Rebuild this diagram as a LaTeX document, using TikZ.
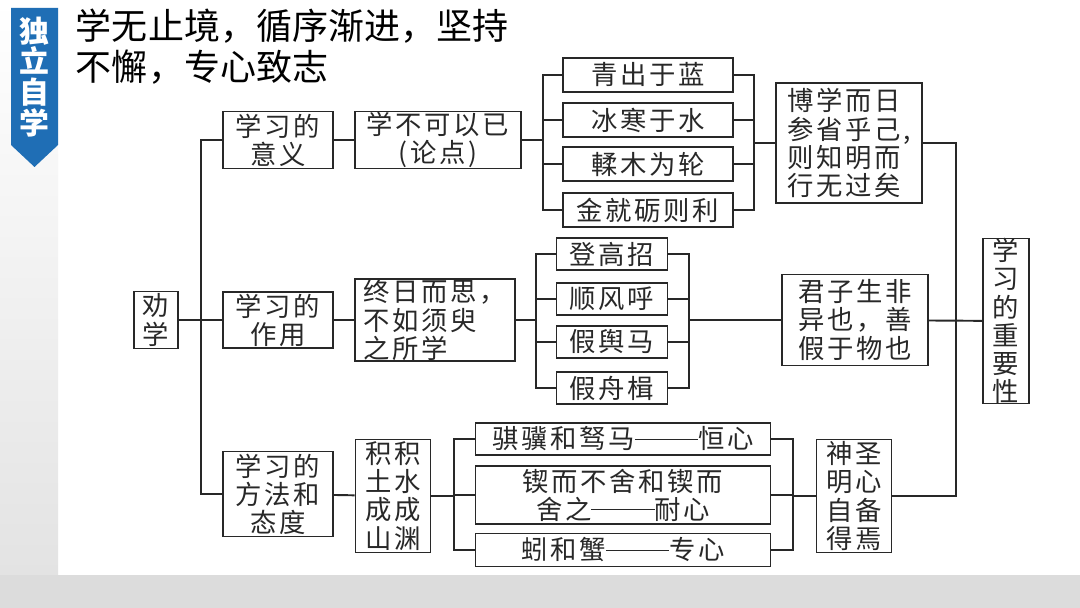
\documentclass[tikz,border=0pt]{standalone}
\usepackage{fontspec}
\newfontfamily\titlefont{Noto Sans CJK SC}
\newfontfamily\boxfont[LetterSpace=10]{Noto Sans CJK SC}
\newcommand\longdash{\rule[0.34em]{2.4em}{0.6pt}}
\definecolor{badgeblue}{RGB}{31,110,181}
\definecolor{inkgray}{RGB}{40,40,40}
\definecolor{stripgray}{RGB}{220,220,220}
\begin{document}
\begin{tikzpicture}[
            x=0.02cm, y=-0.02cm, line width=1.1pt, color=inkgray,
            box/.style={draw, inner sep=0pt, align=center,
                font=\boxfont\fontsize{15pt}{16pt}\selectfont},
            sz/.style 2 args={minimum width=#1*0.02cm, minimum height=#2*0.02cm}
        ]
            % background
            \fill[white] (0,0) rectangle (1080,608);
            \shade[top color=white, bottom color=stripgray!80] (0,0) rectangle (58,575);
            \fill[stripgray] (0,575) rectangle (1080,608);
            \useasboundingbox (0,0) rectangle (1080,608);

            % badge and title
            \fill[badgeblue] (11,8) -- (58,8) -- (58,145) -- (34.5,167) -- (11,145) -- cycle;
            \node[text=white, inner sep=0, align=center,
                font=\titlefont\bfseries\fontsize{17pt}{17.6pt}\selectfont] (badge) at (34.5,77) {独\\立\\自\\学};
            \node[anchor=west, inner sep=0, align=left, text=black,
                font=\titlefont\fontsize{20.5pt}{23.3pt}\selectfont] (title) at (75,47)
                {学无止境，循序渐进，坚持\\不懈，专心致志};

            % first column
            \node[box, sz={44}{57}] (quan) at (156,320) {劝\\学};
            \node[box, sz={110}{57}] (yi) at (278,140) {学习的\\意义};
            \node[box, sz={110}{56}] (zuo) at (278,320) {学习的\\作用};
            \node[box, sz={110}{85}] (fa) at (278,494) {学习的\\方法和\\态度};

            % second column
            \node[box, sz={166}{57}] (lun) at (438,140) {学不可以已\\(论点)};
            \node[box, sz={160}{82}, align=left] (si) at (435,320) {终日而思，\\不如须臾\\之所学};
            \node[box, sz={75}{113}] (ji) at (393,496) {积积\\土水\\成成\\山渊};

            % examples
            \node[box, sz={170}{34}] (q1) at (648,75) {青出于蓝};
            \node[box, sz={170}{34}] (q2) at (648,120) {冰寒于水};
            \node[box, sz={170}{34}] (q3) at (648,164) {輮木为轮};
            \node[box, sz={170}{34}] (q4) at (648,210) {金就砺则利};

            \node[box, sz={111}{32}] (z1) at (612,254) {登高招};
            \node[box, sz={111}{32}] (z2) at (612,299) {顺风呼};
            \node[box, sz={111}{32}] (z3) at (612,342) {假舆马};
            \node[box, sz={111}{32}] (z4) at (612,388) {假舟楫};

            \node[box, sz={295}{32}] (f1) at (623,439) {骐骥和驽马\longdash 恒心};
            \node[box, sz={295}{58}] (f2) at (623,495) {锲而不舍和锲而\\舍之\longdash 耐心};
            \node[box, sz={295}{33}] (f3) at (623,550) {蚓和蟹\longdash 专心};

            % conclusions
            \node[box, sz={146}{120}, align=left] (bo) at (849,143) {博学而日\\参省乎己,\\则知明而\\行无过矣};
            \node[box, sz={146}{91}] (jun) at (855,320) {君子生非\\异也，善\\假于物也};
            \node[box, sz={75}{113}] (shen) at (854,496) {神圣\\明心\\自备\\得焉};
            \node[box, sz={46}{162}] (imp) at (1006,321) {学\\习\\的\\重\\要\\性};

            % bracket points
            \coordinate (t1) at (201,320);
            \coordinate (t2) at (956,320);
            \coordinate (k1) at (543,140);
            \coordinate (k2) at (754,143);
            \coordinate (k3) at (536,320);
            \coordinate (k4) at (689,320);
            \coordinate (k5) at (454,496);
            \coordinate (k6) at (793,496);

            % left trunk
            \draw (quan) -- (zuo);
            \draw (yi.west) -| (t1) |- (fa.west);

            % top row
            \draw (yi) -- (lun);
            \foreach \n in {q1,q2,q3,q4}
                \draw (lun.east) -- (k1) |- (\n.west) (\n.east) -| (k2);
            \draw (k2) -- (bo);

            % middle row
            \draw (zuo) -- (si);
            \foreach \n in {z1,z2,z3,z4}
                \draw (si.east) -- (k3) |- (\n.west) (\n.east) -| (k4);
            \draw (k4) -- (jun);

            % bottom row
            \draw (fa) -- (ji);
            \foreach \n in {f1,f2,f3}
                \draw (ji.east) -- (k5) |- (\n.west) (\n.east) -| (k6);
            \draw (k6) -- (shen);

            % right trunk
            \draw (bo.east) -| (t2);
            \draw (shen.east) -| (t2);
            \draw (jun) -- (imp);

        \end{tikzpicture}
\end{document}
